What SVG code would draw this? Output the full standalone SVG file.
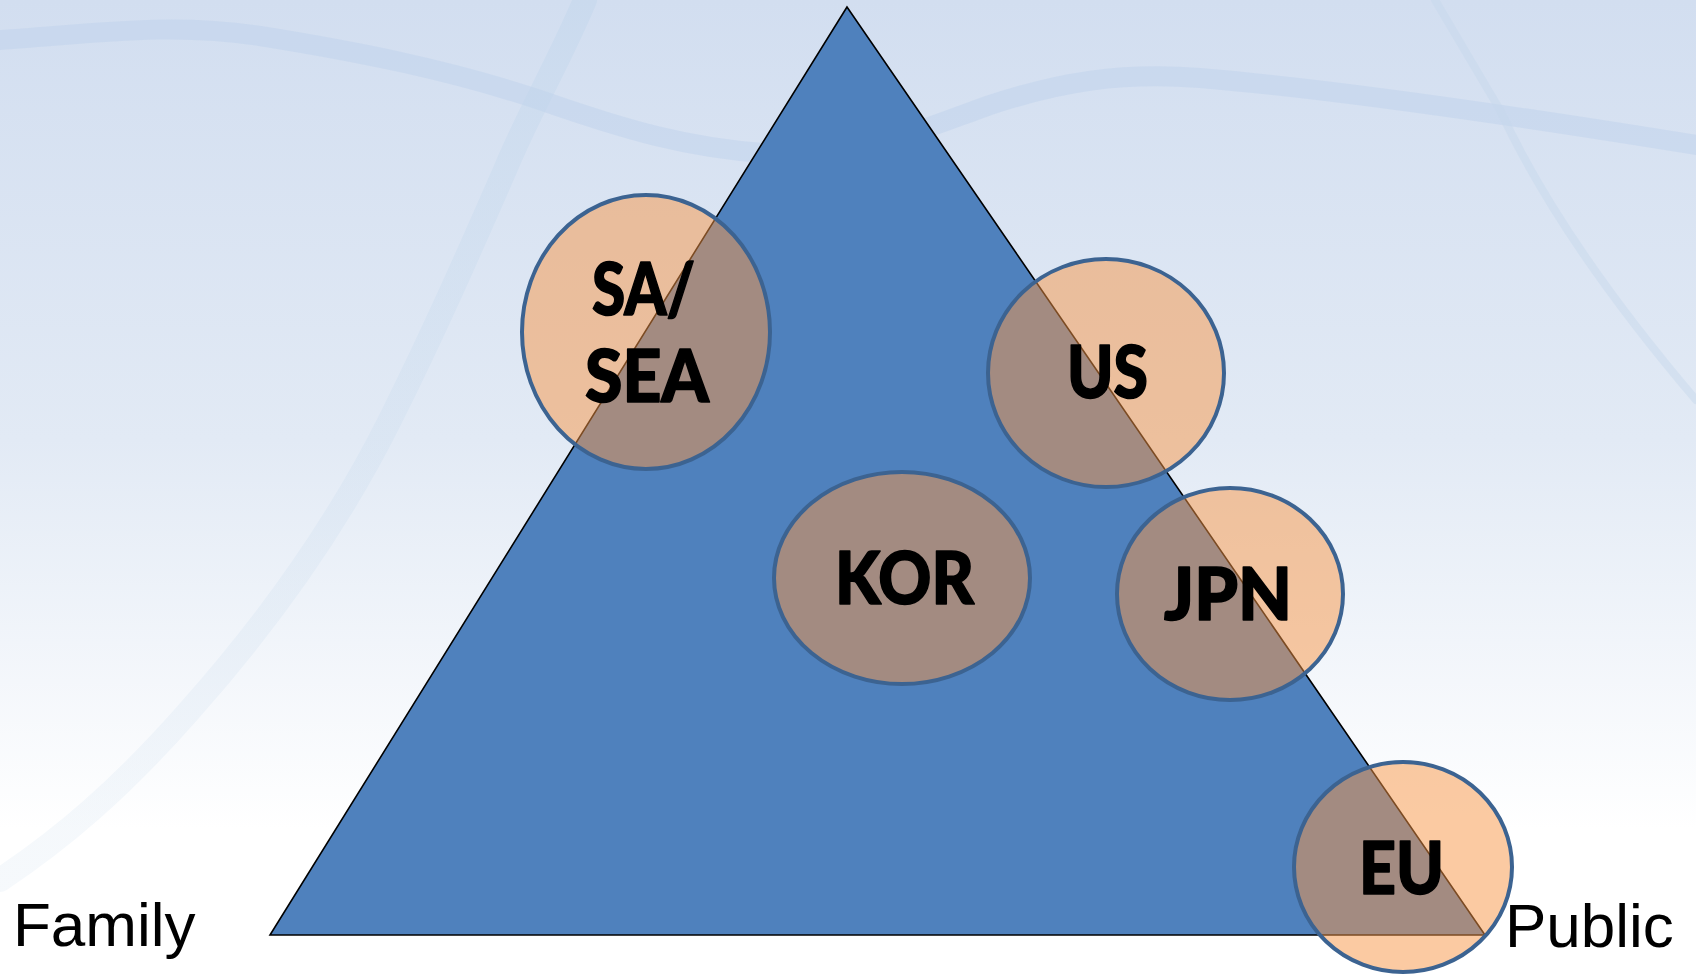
<svg xmlns="http://www.w3.org/2000/svg" width="1696" height="976" viewBox="0 0 1696 976">
  <defs>
    <linearGradient id="bg" x1="0" y1="0" x2="0" y2="1">
      <stop offset="0" stop-color="#D2DEF0"/>
      <stop offset="0.45" stop-color="#E2EAF5"/>
      <stop offset="0.85" stop-color="#FFFFFF"/>
      <stop offset="1" stop-color="#FFFFFF"/>
    </linearGradient>
    <linearGradient id="fadeDiag" x1="0" y1="0" x2="0" y2="1">
      <stop offset="0" stop-color="#BCD3EA" stop-opacity="0.8"/>
      <stop offset="1" stop-color="#D6E4F1" stop-opacity="0.5"/>
    </linearGradient>
    <style>
      .deco { fill: none; stroke-linecap: round; }
      .tri { fill: #4F81BD; stroke: #000000; stroke-width: 1.6; stroke-linejoin: miter; }
      .bubble { fill: #F79646; fill-opacity: 0.5; stroke: #3C6391; stroke-width: 4; }
      .lbl { font-family: Lato, "Open Sans", "Noto Sans", sans-serif; font-weight: 900; font-size: 72px; fill: #000000; stroke: #000000; stroke-width: 1.6; stroke-linejoin: round; text-anchor: start; }
      .axis { font-family: "Liberation Sans", Arial, sans-serif; font-size: 62px; fill: #000000; }
    </style>
  </defs>

  <g id="background">
    <rect x="0" y="0" width="1696" height="976" fill="url(#bg)"/>
    <path class="deco" d="M0,40 C90,34 170,22 260,36 C360,52 450,70 540,100 C620,128 690,150 780,154 C860,158 920,130 990,105 C1060,82 1120,72 1200,78 C1320,88 1480,110 1696,145" stroke="#BDD1EA" stroke-width="20" stroke-opacity="0.45"/>
    <path class="deco" d="M585,0 C560,60 530,110 505,170 C470,250 435,330 390,420 C340,520 270,620 190,710 C120,790 60,840 0,880" stroke="url(#fadeDiag)" stroke-width="24" stroke-opacity="0.45"/>
    <path class="deco" d="M1435,0 L1500,110 Q1560,240 1696,400" stroke="#C6D6EA" stroke-width="8" stroke-opacity="0.45"/>
  </g>

  <g id="triangle">
    <polygon class="tri" points="847,7 270,935 1485,935"/>
  </g>

  <g id="node-sa-sea">
    <ellipse class="bubble" cx="646" cy="332" rx="124" ry="137"/>
    <text class="lbl"><tspan x="592" y="315" textLength="103" lengthAdjust="spacingAndGlyphs">SA/</tspan><tspan x="585" y="402" textLength="124" lengthAdjust="spacingAndGlyphs">SEA</tspan></text>
  </g>

  <g id="node-us">
    <ellipse class="bubble" cx="1106" cy="373" rx="118" ry="114"/>
    <text class="lbl" x="1067" y="398" textLength="81" lengthAdjust="spacingAndGlyphs">US</text>
  </g>

  <g id="node-kor">
    <ellipse class="bubble" cx="902" cy="578" rx="128" ry="106"/>
    <text class="lbl" x="835" y="604" textLength="139" lengthAdjust="spacingAndGlyphs">KOR</text>
  </g>

  <g id="node-jpn">
    <ellipse class="bubble" cx="1230" cy="594" rx="113" ry="106"/>
    <text class="lbl" x="1164" y="620" textLength="128" lengthAdjust="spacingAndGlyphs">JPN</text>
  </g>

  <g id="node-eu">
    <ellipse class="bubble" cx="1403" cy="867" rx="109" ry="105"/>
    <text class="lbl" x="1359" y="894" textLength="85" lengthAdjust="spacingAndGlyphs">EU</text>
  </g>

  <g id="label-family">
    <text class="axis" x="13" y="946">Family</text>
  </g>
  <g id="label-public">
    <text class="axis" x="1505" y="947">Public</text>
  </g>

  <g id="connectors"/>
</svg>
